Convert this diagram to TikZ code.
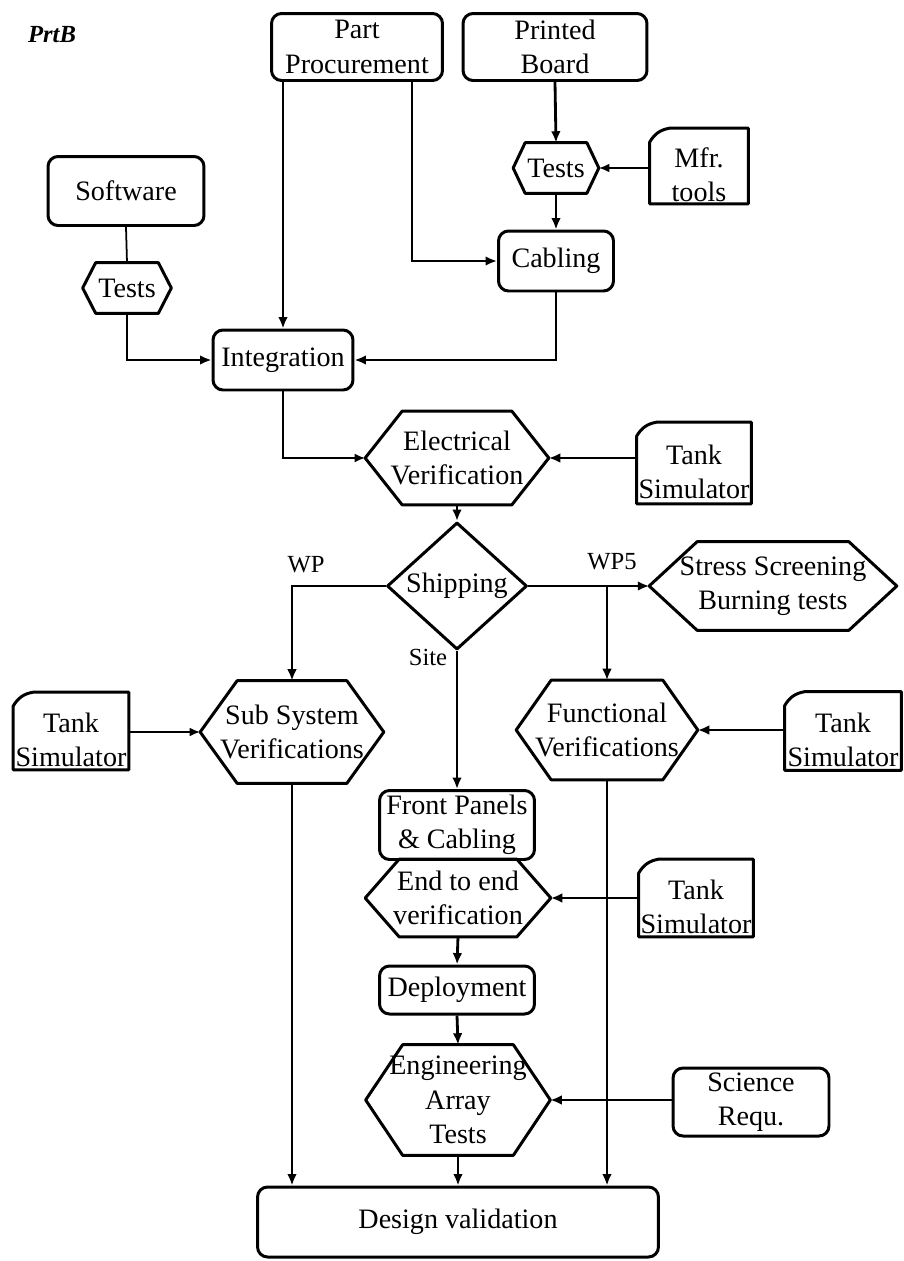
\documentclass[tikz,border=0pt]{standalone}
\usepackage{fontspec}
\setmainfont{Liberation Serif}
\usetikzlibrary{arrows.meta,shapes.geometric}

% test step: hexagon round a plain node, #2 = width of the slanted ends
\newcommand\hexframe[2]{\draw[frame] (#1.west) -- ([xshift=#2]#1.north west)
  -- ([xshift=-#2]#1.north east) -- (#1.east) -- ([xshift=-#2]#1.south east)
  -- ([xshift=#2]#1.south west) -- cycle;}
% input card: rectangle with the top left corner cut off
\newcommand\cardframe[1]{\draw[frame] ([yshift=-0.28cm]#1.north west)
  to[bend left=25] ([xshift=0.4cm]#1.north west) -- (#1.north east)
  -- (#1.south east) -- (#1.south west) -- cycle;}

\begin{document}
\begin{tikzpicture}[x=0.02cm,y=-0.02cm,
  every node/.style={font=\fontsize{16}{19.5}\selectfont,align=center,inner sep=0pt},
  frame/.style={line width=1.7pt,line join=round},
  box/.style={draw,frame,rounded corners=0.2cm},
  card/.style={text height=41pt},
  tag/.style={font=\fontsize{14}{16}\selectfont},
  flow/.style={line width=1.6pt,-{Latex[length=6.5pt,width=5.5pt]}},
  thinflow/.style={line width=1pt,-{Latex[length=6pt,width=5pt]}}]
\useasboundingbox (0,0) rectangle (903,1261);

\node[font=\fontsize{14}{16}\selectfont\bfseries\itshape] (prtb) at (52,35) {PrtB};

% production chain
\node[box,minimum width=3.42cm,minimum height=1.34cm] (parts) at (357,47) {Part\\Procurement};
\node[box,minimum width=3.68cm,minimum height=1.34cm] (board) at (555,47) {Printed\\Board};
\node[box,minimum width=3.12cm,minimum height=1.38cm] (soft) at (126,191) {Software};
\node[minimum width=1.76cm,minimum height=1cm] (swtest) at (127,288) {Tests};
\node[minimum width=1.7cm,minimum height=1cm] (hwtest) at (556,168) {Tests};
\node[card,minimum width=1.96cm,minimum height=1.5cm] (mfr) at (699,166) {Mfr.\\tools};
\node[box,minimum width=2.3cm,minimum height=1.2cm] (cab) at (556,261) {Cabling};
\node[box,minimum width=2.8cm,minimum height=1.2cm] (integ) at (283,360) {Integration};
\node[minimum width=3.66cm,minimum height=1.86cm] (elec) at (457,458) {Electrical\\Verification};
\node[card,minimum width=2.28cm,minimum height=1.62cm] (tsa) at (694,463) {Tank\\Simulator};
\node[draw,frame,diamond,minimum width=2.8cm,minimum height=1.7cm] (ship) at (457,586) {Shipping};

% branches after shipping
\node[minimum width=4.94cm,minimum height=1.76cm] (stress) at (773,586) {Stress Screening\\Burning tests};
\node[minimum width=3.66cm,minimum height=2.04cm] (subsys) at (292,732) {Sub System\\Verifications};
\node[card,minimum width=2.3cm,minimum height=1.54cm] (tsb) at (71,731) {Tank\\Simulator};
\node[minimum width=3.62cm,minimum height=1.98cm] (func) at (607,730) {Functional\\Verifications};
\node[card,minimum width=2.32cm,minimum height=1.56cm] (tsc) at (843,731) {Tank\\Simulator};
\node[box,minimum width=3.1cm,minimum height=1.38cm] (front) at (457,825) {Front Panels\\\& Cabling};
\node[minimum width=3.7cm,minimum height=1.54cm] (endv) at (458,898) {End to end\\verification};
\node[card,minimum width=2.28cm,minimum height=1.54cm] (tsd) at (696,898) {Tank\\Simulator};
\node[box,minimum width=3.1cm,minimum height=0.96cm] (deploy) at (457,990) {Deployment};
\node[minimum width=3.68cm,minimum height=2.2cm] (eng) at (458,1100) {Engineering\\Array\\Tests};
\node[box,minimum width=3.12cm,minimum height=1.36cm] (sci) at (751,1102) {Science\\Requ.};
\node[box,minimum width=8.02cm,minimum height=1.4cm] (valid) at (458,1222) {Design validation};

\node[tag] (wp) at (306,565) {WP};
\node[tag] (wpfive) at (612,562) {WP5};
\node[tag] (site) at (428,657) {Site};

\hexframe{swtest}{0.26cm}
\hexframe{hwtest}{0.24cm}
\hexframe{elec}{0.74cm}
\hexframe{stress}{0.96cm}
\hexframe{subsys}{0.74cm}
\hexframe{func}{0.7cm}
\hexframe{endv}{0.68cm}
\hexframe{eng}{0.74cm}
\cardframe{mfr}
\cardframe{tsa}
\cardframe{tsb}
\cardframe{tsc}
\cardframe{tsd}

% connectors
\draw[line width=1pt] (soft.south) -- (swtest.north);
\draw[flow] (swtest.south) |- (integ.west);
\draw[flow] (integ.north |- parts.south) -- (integ.north);
\draw[flow] ([xshift=1.1cm]parts.south) |- (cab.west);
\draw[flow] (board.south) -- (hwtest.north);
\draw[thinflow] (mfr.west |- hwtest.east) -- (hwtest.east);
\draw[flow] (hwtest.south) -- (cab.north);
\draw[flow] (cab.south) |- (integ.east);
\draw[thinflow] (integ.south) |- (elec.west);
\draw[flow] (tsa.west |- elec.east) -- (elec.east);
\draw[flow] (elec.south) -- (ship.north);
\draw[flow] (ship.west) -| (subsys.north);
\draw[flow] (ship.east) -- (stress.west);
\draw[flow] (ship.east -| func.north) -- (func.north);
\draw[flow] (ship.south) -- (front.north);
\draw[thinflow] (tsb.east |- subsys.west) -- (subsys.west);
\draw[flow] (tsc.west |- func.east) -- (func.east);
\draw[flow] (tsd.west) -- (endv.east);
\draw[flow] (endv.south) -- (deploy.north);
\draw[flow] (deploy.south) -- (eng.north);
\draw[flow] (sci.west |- eng.east) -- (eng.east);
\draw[flow] (subsys.south) -- (subsys.south |- valid.north);
\draw[flow] (eng.south) -- (valid.north);
\draw[flow] (func.south) -- (func.south |- valid.north);
\end{tikzpicture}
\end{document}
